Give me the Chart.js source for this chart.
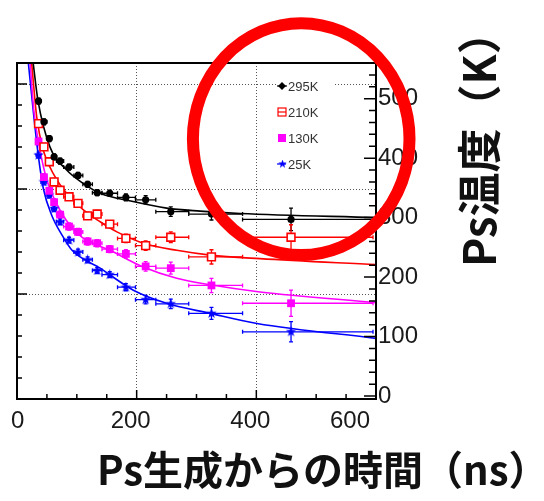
<!DOCTYPE html>
<html>
<head>
<meta charset="utf-8">
<script src="https://cdn.jsdelivr.net/npm/chart.js@4.4.1/dist/chart.umd.min.js"></script>
<style>
  html, body { margin: 0; padding: 0; background: #fff; }
  canvas { display: block; }
</style>
</head>
<body>
<canvas id="chart" width="544" height="501"></canvas>
<script>
// Ps temperature vs time after formation, four sample temperatures
const labels = ['295K', '210K', '130K', '25K'];
const colors = ['#000000', '#ff0000', '#ff00ff', '#0000ff'];

// time bins (ns): centre and edges
const timeBins = [36, 45, 54, 62, 72, 87, 102, 118, 134, 155, 182, 215, 257, 325, 458];
const binLow   = [32, 40, 50, 58, 66, 78, 95, 110, 126, 142, 168, 198, 232, 287, 377];
const binHigh  = [40, 50, 58, 66, 78, 95, 110, 126, 142, 168, 198, 232, 287, 377, 595];

// measured Ps temperature (K) and errors
const temp295 = [496, 461, 433, 402, 395, 385, 371, 356, 342, 341, 334, 330, 310, 306, 297];
const temp210 = [458, 419, 394, 360, 346, 335, 324, 303, 306, 289, 265, 253, 267, 234, 267];
const temp130 = [428, 368, 345, 326, 305, 285, 276, 260, 257, 247, 239, 218, 215, 186, 156];
const temp25  = [405, 360, 338, 315, 293, 262, 242, 229, 211, 204, 183, 162, 155, 139, 108];
const err295 = [5, 5, 5, 5, 5, 5, 5, 5, 5, 5, 6, 7, 8, 10, 19];
const err210 = [6, 6, 6, 6, 6, 6, 6, 6, 6, 6, 7, 8, 9, 12, 21];
const err130 = [6, 6, 6, 6, 6, 6, 6, 6, 6, 6, 7, 8, 10, 12, 22];
const err25  = [5, 5, 5, 5, 5, 5, 5, 5, 5, 5, 6, 7, 8, 10, 17];

// fitted curves
const fitTime295 = [27, 35, 55, 83, 110, 139, 194, 250, 306, 373, 600];
const fit295     = [560, 497, 419, 380, 358, 341, 327, 316, 311, 307, 300];
const fitTime210 = [24.5, 33, 44, 63.5, 83, 111, 139, 167, 211, 267, 323, 406, 600];
const fit210     = [560, 469, 413, 369, 341, 313, 293, 276, 257, 245, 237, 231, 221];
const fitTime130 = [22, 28, 38.5, 50, 63.5, 82, 110, 155.5, 211, 267, 323, 406, 600];
const fit130     = [560, 481, 413, 363, 329, 296, 266, 245, 217, 198, 187, 175, 157];
const fitTime25  = [19, 27, 35.5, 44, 58, 75, 92, 139, 194.5, 250, 323, 401, 600];
const fit25      = [560, 481, 405, 349, 304, 271, 245, 215, 178, 156, 139, 122, 97];

// highlighted region (ns, K): centre and half sizes
const highlight = { t: 475, T: 432, dt: 181, dT: 195 };

const xTitle = 'Ps生成からの時間（ns）';
const yTitle = 'Ps温度（K）';

function starImage(color, size) {
  const c = document.createElement('canvas');
  c.width = size; c.height = size;
  const g = c.getContext('2d');
  g.fillStyle = color;
  g.beginPath();
  for (let i = 0; i < 10; i++) {
    const r = i % 2 ? size * 0.2 : size * 0.5;
    const a = -Math.PI / 2 + i * Math.PI / 5;
    g.lineTo(size / 2 + r * Math.cos(a), size / 2 + r * Math.sin(a));
  }
  g.closePath();
  g.fill();
  return c;
}
const blueStar = starImage(colors[3], 11);
const legendStar = starImage(colors[3], 9);

function points(temps) {
  return timeBins.map((t, i) => ({ x: t, y: temps[i] }));
}
function curve(times, temps) {
  return times.map((t, i) => ({ x: t, y: temps[i] }));
}

function fitSet(times, temps, color) {
  return {
    data: curve(times, temps),
    showLine: true,
    borderColor: color,
    borderWidth: 1.6,
    pointRadius: 0,
    cubicInterpolationMode: 'monotone',
    yAxisID: 'y',
  };
}

const data = {
  datasets: [
    { label: labels[0], data: points(temp295), errY: err295, borderColor: colors[0], backgroundColor: colors[0],
      pointStyle: 'circle', pointRadius: 3.6, borderWidth: 0, yAxisID: 'y' },
    { label: labels[1], data: points(temp210), errY: err210, borderColor: colors[1], backgroundColor: '#ffffff',
      pointStyle: 'rect', pointRadius: 5.5, pointBorderWidth: 1.6, yAxisID: 'y' },
    { label: labels[2], data: points(temp130), errY: err130, borderColor: colors[2], backgroundColor: colors[2],
      pointStyle: 'rect', pointRadius: 5.5, borderWidth: 0, yAxisID: 'y' },
    { label: labels[3], data: points(temp25), errY: err25, borderColor: colors[3], backgroundColor: colors[3],
      pointStyle: blueStar, pointRadius: 5, yAxisID: 'y' },
    fitSet(fitTime295, fit295, colors[0]),
    fitSet(fitTime210, fit210, colors[1]),
    fitSet(fitTime130, fit130, colors[2]),
    fitSet(fitTime25, fit25, colors[3]),
  ]
};

// horizontal (bin width) and vertical error bars
const errorBars = {
  id: 'errorBars',
  beforeDatasetsDraw(chart) {
    const { ctx, chartArea: a, scales: { x, y } } = chart;
    ctx.save();
    ctx.beginPath();
    ctx.rect(a.left, a.top, a.right - a.left, a.bottom - a.top);
    ctx.clip();
    ctx.lineWidth = 1.3;
    chart.data.datasets.forEach(ds => {
      if (!ds.errY) return;
      ctx.strokeStyle = ds.borderColor;
      ds.data.forEach((p, i) => {
        const px = x.getPixelForValue(p.x);
        const py = y.getPixelForValue(p.y);
        const x0 = x.getPixelForValue(binLow[i]);
        const x1 = x.getPixelForValue(binHigh[i]);
        const y0 = y.getPixelForValue(p.y - ds.errY[i]);
        const y1 = y.getPixelForValue(p.y + ds.errY[i]);
        ctx.beginPath();
        ctx.moveTo(x0, py); ctx.lineTo(x1, py);
        ctx.moveTo(px, y0); ctx.lineTo(px, y1);
        ctx.moveTo(x0, py - 2); ctx.lineTo(x0, py + 2);
        ctx.moveTo(x1, py - 2); ctx.lineTo(x1, py + 2);
        ctx.moveTo(px - 2, y0); ctx.lineTo(px + 2, y0);
        ctx.moveTo(px - 2, y1); ctx.lineTo(px + 2, y1);
        ctx.stroke();
      });
    });
    ctx.restore();
  }
};

// frame, inner tick marks, legend, axis titles and the red ring
const decor = {
  id: 'decor',
  afterDraw(chart) {
    const { ctx, chartArea: a, scales: { x, y, yL } } = chart;
    ctx.save();

    // ticks
    ctx.strokeStyle = '#000';
    ctx.lineWidth = 1.5;
    ctx.beginPath();
    for (let v = 0; v <= 600; v += 50) {
      const px = x.getPixelForValue(v);
      const len = v % 200 === 0 ? 9 : 5;
      ctx.moveTo(px, a.bottom); ctx.lineTo(px, a.bottom - len);
    }
    for (let k = 0; k <= 16; k++) {
      const py = yL.getPixelForValue(k * 0.2);
      const len = k % 5 === 0 ? 10 : 5;
      ctx.moveTo(a.left, py); ctx.lineTo(a.left + len, py);
    }
    for (let v = 0; v <= 540; v += 20) {
      const py = y.getPixelForValue(v);
      const len = v % 100 === 0 ? 12 : 7;
      ctx.moveTo(a.right, py); ctx.lineTo(a.right - len, py);
    }
    ctx.stroke();

    // frame
    ctx.lineWidth = 2;
    ctx.strokeRect(a.left, a.top, a.right - a.left, a.bottom - a.top);

    // legend
    const lx = a.right - 99, ly = a.top + 8;
    ctx.fillStyle = '#fff';
    ctx.fillRect(lx, ly, 56, 104);
    const mx = lx + 5;
    const rows = [ly + 15, ly + 41, ly + 67, ly + 93];
    ctx.lineWidth = 1.2;
    // 295K
    ctx.strokeStyle = colors[0]; ctx.fillStyle = colors[0];
    ctx.beginPath(); ctx.moveTo(mx - 5, rows[0]); ctx.lineTo(mx + 5, rows[0]); ctx.stroke();
    ctx.beginPath(); ctx.moveTo(mx, rows[0] - 4); ctx.lineTo(mx + 4, rows[0]); ctx.lineTo(mx, rows[0] + 4); ctx.lineTo(mx - 4, rows[0]); ctx.closePath(); ctx.fill();
    // 210K
    ctx.strokeStyle = colors[1];
    ctx.strokeRect(mx - 4, rows[1] - 4, 8, 8);
    ctx.beginPath(); ctx.moveTo(mx - 4, rows[1]); ctx.lineTo(mx + 4, rows[1]); ctx.stroke();
    // 130K
    ctx.fillStyle = colors[2];
    ctx.fillRect(mx - 4, rows[2] - 4, 8, 8);
    // 25K
    ctx.strokeStyle = colors[3];
    ctx.beginPath(); ctx.moveTo(mx - 5, rows[3]); ctx.lineTo(mx + 4, rows[3]); ctx.stroke();
    ctx.drawImage(legendStar, mx - 4, rows[3] - 4.5);

    ctx.fillStyle = '#333';
    ctx.font = '13px "Liberation Sans", Arial, sans-serif';
    ctx.textBaseline = 'middle';
    ctx.textAlign = 'left';
    labels.forEach((l, i) => ctx.fillText(l, mx + 6, rows[i] + 1));

    // axis titles
    ctx.fillStyle = '#111';
    ctx.font = 'bold 40px "Noto Sans CJK JP", sans-serif';
    ctx.fillText(xTitle, 97, 470);
    ctx.save();
    ctx.font = 'bold 44px "Noto Sans CJK JP", sans-serif';
    ctx.translate(479, 267);
    ctx.rotate(-Math.PI / 2);
    ctx.fillText(yTitle, 0, 0);
    ctx.restore();

    // red ring
    const cx = x.getPixelForValue(highlight.t);
    const cy = y.getPixelForValue(highlight.T);
    const rx = x.getPixelForValue(highlight.t + highlight.dt) - cx;
    const ry = cy - y.getPixelForValue(highlight.T + highlight.dT);
    ctx.strokeStyle = '#ff0000';
    ctx.lineWidth = 12;
    ctx.beginPath();
    ctx.ellipse(cx, cy, rx, ry, 0, 0, Math.PI * 2);
    ctx.stroke();

    ctx.restore();
  }
};

const tickFont = { family: 'Liberation Sans', size: 24 };

const config = {
  type: 'scatter',
  data: data,
  options: {
    responsive: false,
    animation: false,
    events: [],
    layout: { padding: { left: 17, top: 63, right: 108, bottom: 62 } },
    plugins: { legend: { display: false }, tooltip: { enabled: false } },
    scales: {
      x: {
        type: 'linear', position: 'bottom', min: 0, max: 600,
        afterFit: s => { s.height = 40; },
        ticks: { stepSize: 200, align: 'inner', labelOffset: -6, padding: 8, maxRotation: 0, font: tickFont, color: '#1a1a1a' },
        grid: {
          drawTicks: false,
          color: c => (c.tick && (c.tick.value === 200 || c.tick.value === 400)) ? '#555' : 'transparent',
        },
        border: { display: false, dash: [1, 2] },
      },
      y: {
        type: 'linear', position: 'right', min: -5, max: 560,
        afterFit: s => { s.width = 60; },
        ticks: { stepSize: 100, includeBounds: false, padding: 2, font: tickFont, color: '#1a1a1a' },
        grid: { display: false, drawTicks: false },
        border: { display: false },
      },
      yL: {
        type: 'linear', position: 'left', min: 0, max: 3.2,
        afterFit: s => { s.width = 0; },
        ticks: { display: false, stepSize: 1, includeBounds: false },
        grid: {
          drawTicks: false,
          color: c => (c.tick && c.tick.value >= 1 && c.tick.value <= 3) ? '#555' : 'transparent',
        },
        border: { display: false, dash: [1, 2] },
      },
    }
  },
  plugins: [errorBars, decor]
};

const chart = new Chart(document.getElementById('chart'), config);
</script>
</body>
</html>
